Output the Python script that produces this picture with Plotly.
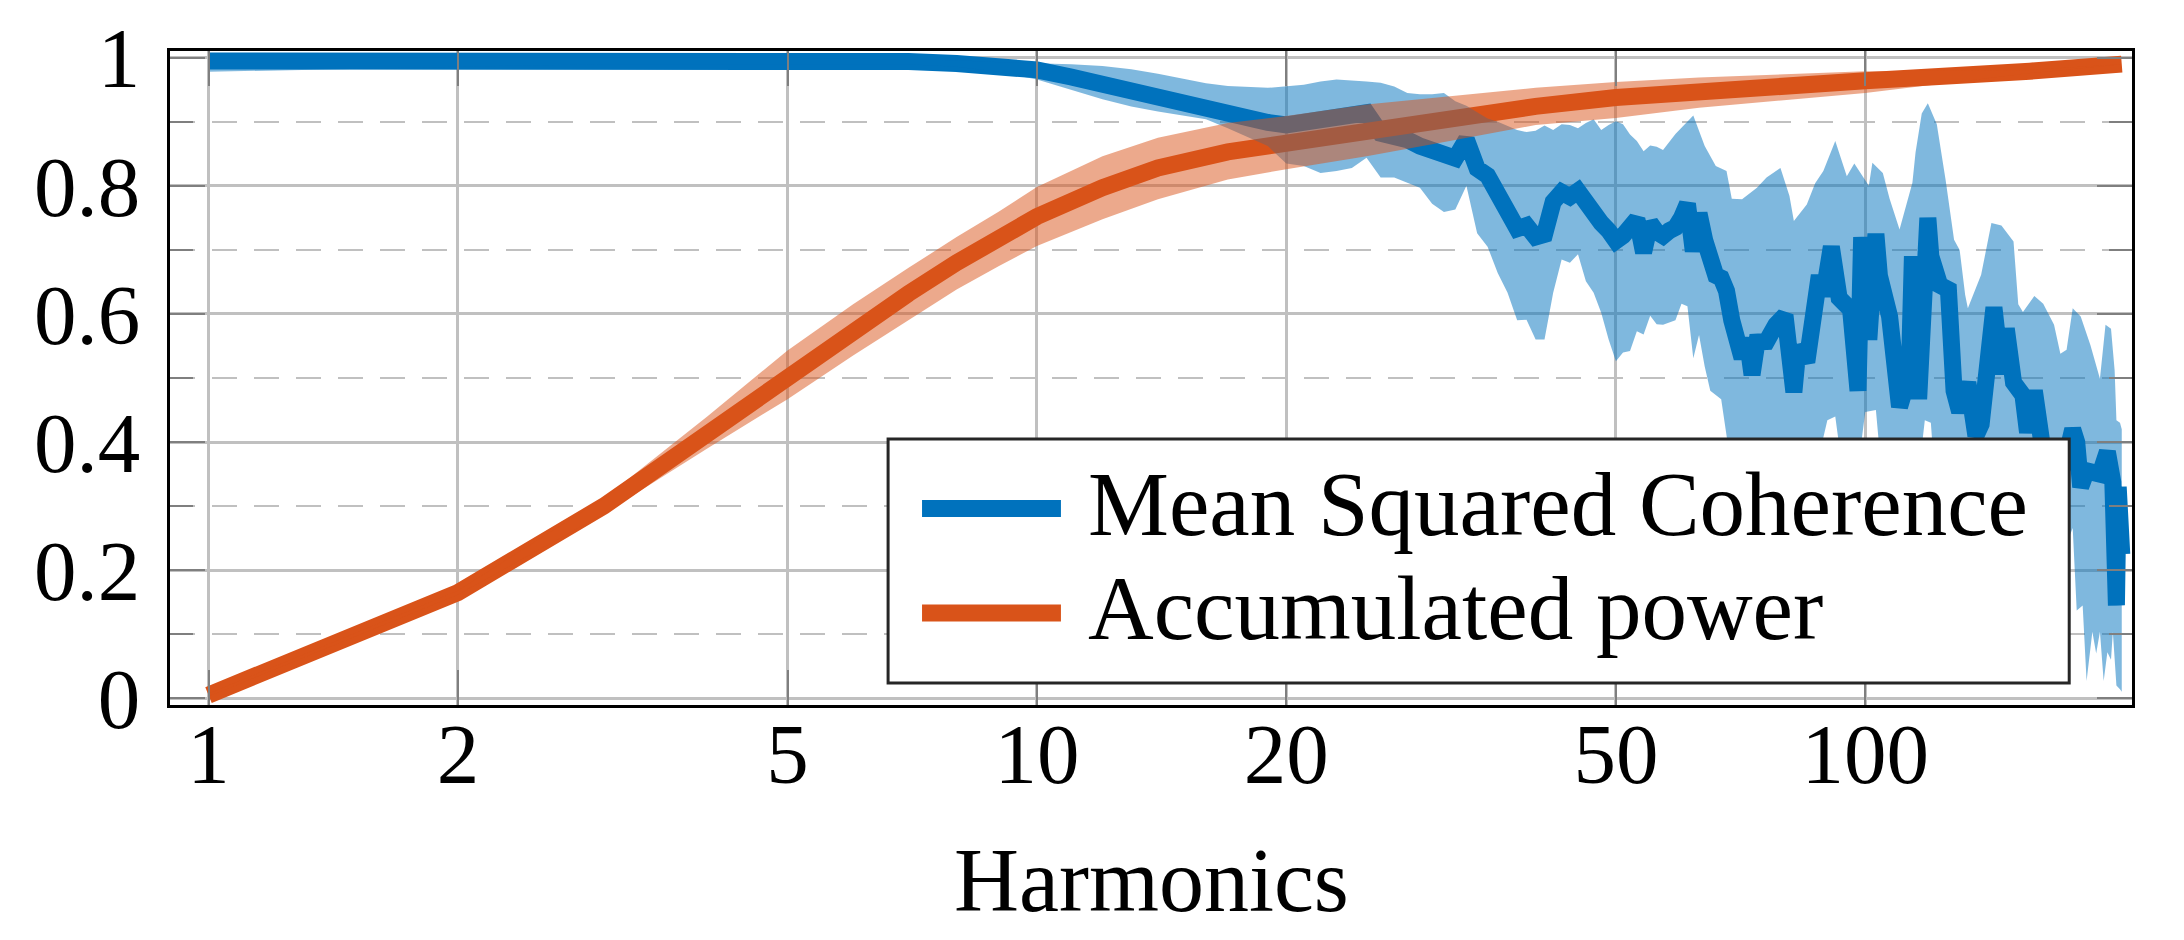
import plotly.graph_objects as go

# ---------------- data ----------------
series_names = ["Mean Squared Coherence", "Accumulated power"]

# Mean squared coherence: mean line
coh_h = [1, 2, 3, 5, 7, 8, 9, 10, 11, 12, 13, 14, 15, 17, 19, 20, 21, 22, 23, 24,
         25, 26, 27, 28, 29, 30, 31, 32, 33, 34, 35, 36, 37, 38, 39, 40, 41, 42, 43, 44,
         45, 46, 47, 48, 49, 50, 51, 52, 53, 54, 55, 56, 57, 58, 59, 60, 61, 62, 63, 64,
         65, 66, 67, 68, 69, 70, 71, 72, 73, 74, 76, 78, 80, 82, 83, 85, 86, 88, 89, 91,
         93, 96, 98, 99, 101, 103, 104, 107, 110, 113, 114, 116, 119, 120, 123, 126, 128, 130, 133, 136,
         138, 143, 146, 148, 151, 155, 157, 160, 165, 170, 175, 178, 180, 182, 185, 188, 192, 196, 199, 201,
         202, 204]
coh_mean = [0.995, 0.997, 0.997, 0.997, 0.994, 0.991, 0.987, 0.981, 0.970, 0.958, 0.946, 0.936, 0.927, 0.911, 0.899, 0.895, 0.898, 0.900, 0.903, 0.906,
            0.914, 0.882, 0.878, 0.872, 0.862, 0.855, 0.848, 0.843, 0.872, 0.827, 0.816, 0.790, 0.757, 0.733, 0.738, 0.720, 0.724, 0.775, 0.790, 0.783,
            0.792, 0.772, 0.763, 0.742, 0.730, 0.714, 0.722, 0.735, 0.748, 0.696, 0.742, 0.728, 0.722, 0.730, 0.735, 0.750, 0.772, 0.698, 0.757, 0.715,
            0.690, 0.660, 0.656, 0.636, 0.590, 0.548, 0.531, 0.562, 0.505, 0.556, 0.557, 0.583, 0.598, 0.478, 0.550, 0.525, 0.583, 0.660, 0.628, 0.705,
            0.625, 0.607, 0.480, 0.720, 0.560, 0.725, 0.660, 0.596, 0.455, 0.506, 0.690, 0.467, 0.750, 0.690, 0.645, 0.638, 0.480, 0.447, 0.493, 0.410,
            0.428, 0.610, 0.506, 0.577, 0.493, 0.473, 0.415, 0.480, 0.360, 0.330, 0.380, 0.420, 0.400, 0.330, 0.355, 0.350, 0.350, 0.385, 0.337, 0.145,
            0.330, 0.225]

# Mean squared coherence: upper edge of spread
coh_up_h = [1, 2, 5, 8, 9, 10, 11, 12, 13, 14, 16, 17, 19, 21, 22, 23, 24, 25, 26, 27,
            28, 29, 30, 31, 32, 33, 34, 35, 36, 37, 38, 39, 40, 41, 42, 43, 44, 45, 46, 47,
            48, 49, 50, 51, 52, 53, 54, 55, 56, 57, 59, 62, 64, 66, 68, 69, 71, 74, 76, 79,
            81, 82, 85, 87, 89, 92, 95, 97, 101, 102, 105, 107, 110, 114, 115, 117, 119, 122, 125, 128,
            130, 132, 133, 138, 142, 146, 151, 153, 155, 160, 164, 169, 172, 175, 178, 182, 187, 192, 195, 198,
            200, 201, 203, 204]
coh_up = [0.999, 1.000, 1.000, 0.996, 0.993, 0.992, 0.990, 0.987, 0.982, 0.975, 0.960, 0.956, 0.953, 0.958, 0.963, 0.966, 0.965, 0.963, 0.961, 0.955,
          0.945, 0.943, 0.943, 0.945, 0.932, 0.925, 0.915, 0.905, 0.900, 0.893, 0.887, 0.884, 0.886, 0.894, 0.887, 0.896, 0.895, 0.890, 0.898, 0.904,
          0.887, 0.895, 0.901, 0.896, 0.880, 0.870, 0.854, 0.863, 0.861, 0.856, 0.881, 0.910, 0.862, 0.831, 0.823, 0.780, 0.779, 0.797, 0.813, 0.828,
          0.784, 0.745, 0.771, 0.804, 0.823, 0.870, 0.815, 0.835, 0.800, 0.836, 0.820, 0.780, 0.732, 0.805, 0.852, 0.913, 0.929, 0.896, 0.810, 0.716,
          0.700, 0.630, 0.609, 0.661, 0.742, 0.738, 0.713, 0.615, 0.603, 0.628, 0.616, 0.583, 0.538, 0.544, 0.609, 0.596, 0.551, 0.499, 0.583, 0.577,
          0.512, 0.434, 0.430, 0.420]

# Mean squared coherence: lower edge of spread
coh_lo_h = [1, 2, 3, 7, 8, 9, 10, 11, 12, 13, 14, 16, 17, 19, 20, 21, 22, 23, 24, 25,
            26, 27, 28, 29, 30, 31, 32, 33, 34, 35, 36, 37, 38, 39, 40, 41, 42, 43, 44, 45,
            46, 47, 48, 49, 50, 51, 52, 53, 54, 55, 56, 57, 59, 60, 61, 62, 63, 64, 65, 67,
            68, 70, 75, 80, 85, 88, 90, 92, 94, 98, 100, 103, 105, 110, 116, 118, 120, 122, 130, 140,
            150, 160, 170, 176, 178, 180, 183, 185, 188, 190, 192, 194, 196, 198, 199, 201, 203, 204]
coh_lo = [0.978, 0.986, 0.990, 0.990, 0.986, 0.978, 0.966, 0.950, 0.935, 0.924, 0.916, 0.904, 0.890, 0.862, 0.835, 0.831, 0.820, 0.823, 0.828, 0.844,
          0.813, 0.813, 0.805, 0.797, 0.772, 0.759, 0.763, 0.800, 0.726, 0.705, 0.664, 0.633, 0.590, 0.591, 0.560, 0.560, 0.633, 0.685, 0.680, 0.693,
          0.651, 0.633, 0.602, 0.560, 0.526, 0.540, 0.542, 0.573, 0.568, 0.597, 0.584, 0.583, 0.590, 0.616, 0.612, 0.531, 0.567, 0.518, 0.480, 0.467,
          0.408, 0.300, 0.280, 0.300, 0.330, 0.380, 0.434, 0.440, 0.350, 0.360, 0.447, 0.450, 0.330, 0.300, 0.350, 0.434, 0.430, 0.300, 0.200, 0.250,
          0.200, 0.150, 0.200, 0.250, 0.266, 0.137, 0.145, 0.027, 0.104, 0.070, 0.104, 0.027, 0.072, 0.060, 0.104, 0.020, 0.014, 0.010]

# Accumulated power: mean line and spread
pow_h = [1, 2, 3, 4, 5, 6, 7, 8, 9, 10, 12, 14, 17, 20, 25, 30, 40, 50, 63, 100, 158, 204]
pow_mean = [0.005, 0.165, 0.300, 0.415, 0.505, 0.575, 0.632, 0.680, 0.718, 0.752, 0.797, 0.828, 0.853, 0.867, 0.887, 0.901, 0.924, 0.938, 0.948, 0.964, 0.979, 0.990]
pow_up = [0.007, 0.168, 0.312, 0.440, 0.543, 0.615, 0.672, 0.720, 0.760, 0.798, 0.846, 0.875, 0.898, 0.909, 0.927, 0.937, 0.953, 0.962, 0.969, 0.979, 0.981, 0.990]
pow_lo = [0.003, 0.162, 0.288, 0.390, 0.467, 0.535, 0.590, 0.638, 0.675, 0.706, 0.748, 0.779, 0.810, 0.826, 0.846, 0.865, 0.895, 0.906, 0.922, 0.945, 0.976, 0.990]

x_tickvals = [1, 2, 5, 10, 20, 50, 100]
x_ticktext = ["1", "2", "5", "10", "20", "50", "100"]
y_tickvals = [0, 0.2, 0.4, 0.6, 0.8, 1]
y_ticktext = ["0", "0.2", "0.4", "0.6", "0.8", "1"]
y_minorvals = [0.1, 0.3, 0.5, 0.7, 0.9]
x_title = "Harmonics"

# ---------------- styling ----------------
BLUE = "#0072BD"
ORANGE = "#D95319"
BLUE_BAND = "rgba(0,114,189,0.5)"
ORANGE_BAND = "rgba(217,83,25,0.5)"
FONT = "Liberation Serif"
LW = 17
GRID = "#c0c0c0"
TICKC = "#7f7f7f"

fig = go.Figure()
# lines first, translucent bands on top (as in the reference)
fig.add_trace(go.Scatter(x=coh_h, y=coh_mean, mode="lines", name=series_names[0],
                         line=dict(color=BLUE, width=LW), showlegend=False))
fig.add_trace(go.Scatter(x=pow_h, y=pow_mean, mode="lines", name=series_names[1],
                         line=dict(color=ORANGE, width=LW), showlegend=False))
fig.add_trace(go.Scatter(x=coh_up_h + coh_lo_h[::-1], y=coh_up + coh_lo[::-1],
                         mode="lines", fill="toself", fillcolor=BLUE_BAND,
                         line=dict(width=0, color=BLUE_BAND), hoverinfo="skip", showlegend=False))
fig.add_trace(go.Scatter(x=pow_h + pow_h[::-1], y=pow_up + pow_lo[::-1],
                         mode="lines", fill="toself", fillcolor=ORANGE_BAND,
                         line=dict(width=0, color=ORANGE_BAND), hoverinfo="skip", showlegend=False))

axis_common = dict(
    ticks="inside", ticklen=35, tickwidth=2, tickcolor=TICKC,
    showline=True, linecolor="black", linewidth=2.5, mirror="ticks",
    showgrid=True, gridcolor=GRID, gridwidth=2.5, zeroline=False, automargin=False,
    tickfont=dict(family=FONT, size=85, color="black"),
)

fig.update_layout(
    width=2184, height=940,
    margin=dict(l=162, r=60, t=43, b=243),
    paper_bgcolor="white", plot_bgcolor="white",
    showlegend=False,
    xaxis=dict(type="log", range=[-0.0465, 2.322], tickmode="array",
               tickvals=x_tickvals, ticktext=x_ticktext, ticklabelstandoff=-27,
               **axis_common),
    yaxis=dict(range=[-0.0105, 1.0105], tickmode="array",
               tickvals=y_tickvals, ticktext=y_ticktext, ticklabelstandoff=10,
               minor=dict(tickmode="array", tickvals=y_minorvals, ticks="inside", ticklen=23,
                          tickwidth=2, tickcolor=TICKC, showgrid=True, gridcolor=GRID,
                          gridwidth=2, griddash="25px,17px"),
               **axis_common),
)

# x-axis title
fig.add_annotation(xref="paper", yref="paper", x=0.5, y=-0.268, text=x_title, showarrow=False,
                   xanchor="center", yanchor="middle",
                   font=dict(family=FONT, size=90, color="black"))

# legend drawn as a framed box with line samples
lx0, lx1, ly0, ly1 = 0.366, 0.968, 0.0336, 0.4067
fig.add_shape(type="rect", xref="paper", yref="paper", x0=lx0, x1=lx1, y0=ly0, y1=ly1,
              fillcolor="white", line=dict(color="#262626", width=3), layer="above")
leg_rows = [(0.3006, 0.3066, BLUE, series_names[0]), (0.1408, 0.1468, ORANGE, series_names[1])]
for yl, yt, col, name in leg_rows:
    fig.add_shape(type="line", xref="paper", yref="paper", x0=0.3833, x1=0.4541, y0=yl, y1=yl,
                  line=dict(color=col, width=LW), layer="above")
    fig.add_annotation(xref="paper", yref="paper", x=0.4669, y=yt, text=name, showarrow=False,
                       xanchor="left", yanchor="middle",
                       font=dict(family=FONT, size=91, color="black"))

fig.write_html("out.html")
